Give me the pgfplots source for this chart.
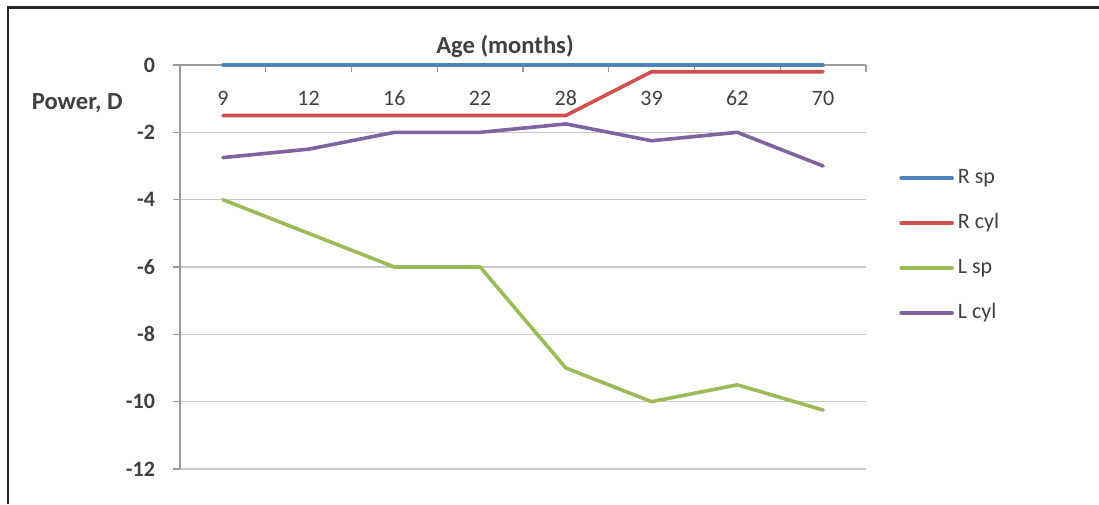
\documentclass[border=0pt]{standalone}
\usepackage{pgfplots}
\pgfplotsset{compat=1.18}
\usepackage{fontspec}
\setmainfont{Carlito}
\definecolor{cblue}{HTML}{4F81BD}
\definecolor{cred}{HTML}{D0504D}
\definecolor{cgreen}{HTML}{9BBB59}
\definecolor{cpurple}{HTML}{8064A2}
\definecolor{axgray}{HTML}{9A9A9A}
\definecolor{grgray}{HTML}{C8C8C8}
\definecolor{txt}{HTML}{404040}
\newcommand{\cfont}{\fontsize{11pt}{13.2pt}\selectfont}
\newcommand{\tfont}{\fontsize{12.3pt}{14.5pt}\selectfont}
\begin{document}
\begin{tikzpicture}
\useasboundingbox (0,0) rectangle (549.5pt,-252pt);
\draw[line width=1.3pt, color=black!85] (4pt,-252pt) -- (4pt,-3.65pt) -- (549.5pt,-3.65pt);
\begin{axis}[
  at={(90pt,-234.5pt)}, anchor=south west,
  width=343pt, height=202pt, scale only axis,
  xmin=-0.5, xmax=7.5, ymin=-12, ymax=0,
  axis x line*=top, axis y line*=left,
  axis line style={draw=axgray, line width=0.6pt},
  xtick={0,...,7}, xticklabels={9,12,16,22,28,39,62,70},
  major x tick style={draw=none},
  minor xtick={-0.5,0.5,1.5,2.5,3.5,4.5,5.5,6.5,7.5},
  minor x tick style={draw=axgray, line width=0.6pt},
  minor tick length=3.5pt,
  major tick length=3.5pt,
  tick align=inside,
  ytick={-12,-10,-8,-6,-4,-2,0},
  ytick style={xshift=-3.5pt, draw=axgray, line width=0.6pt},
  ymajorgrids, grid style={draw=grgray, line width=0.6pt},
  /pgf/number format/assume math mode=true,
  tick label style={font=\cfont, text=txt},
  yticklabel style={font=\cfont\bfseries, xshift=-9pt},
  xticklabel style={anchor=center, yshift=-16.5pt},
  legend style={at={(1.048,0.553)}, anchor=west, draw=none, fill=none,
    inner sep=0pt, font=\cfont, text=txt, row sep=8pt,
    nodes={inner sep=2pt, text height=7.8pt, text depth=2.7pt},
    /tikz/every even column/.append style={column sep=0pt}},
  legend cell align=left,
  legend image code/.code={\draw[#1] (0pt,0pt) -- (25.5pt,0pt);},
  every axis plot/.append style={line width=1.8pt, line join=round, line cap=round, mark=none},
  clip=false,
]
\addplot[cblue] coordinates {(0,0) (1,0) (2,0) (3,0) (4,0) (5,0) (6,0) (7,0)};
\addlegendentry{R sp}
\addplot[cred] coordinates {(0,-1.5) (1,-1.5) (2,-1.5) (3,-1.5) (4,-1.5) (5,-0.2) (6,-0.2) (7,-0.2)};
\addlegendentry{R cyl}
\addplot[cgreen] coordinates {(0,-4) (1,-5) (2,-6) (3,-6) (4,-9) (5,-10) (6,-9.5) (7,-10.25)};
\addlegendentry{L sp}
\addplot[cpurple] coordinates {(0,-2.75) (1,-2.5) (2,-2) (3,-2) (4,-1.75) (5,-2.25) (6,-2) (7,-3)};
\addlegendentry{L cyl}
\end{axis}
\node[font=\tfont\bfseries, text=txt] at (252.5pt,-23pt) {Age (months)};
\node[font=\tfont\bfseries, text=txt, anchor=east, inner sep=0pt] at (61.5pt,-51.5pt) {Power, D};
\end{tikzpicture}
\end{document}
